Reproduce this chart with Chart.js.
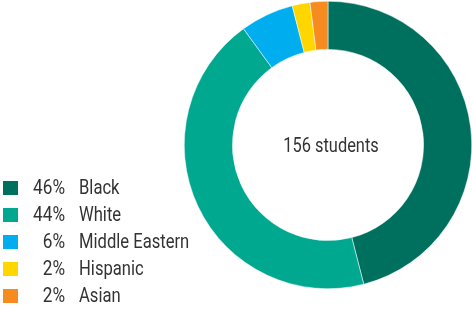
<!DOCTYPE html>
<html>
<head>
<meta charset="utf-8">
<script src="https://cdn.jsdelivr.net/npm/chart.js@4"></script>
<style>
    body { margin: 0; width: 472px; height: 311px; background: #fff; position: relative; overflow: hidden; font-family: Roboto, "Noto Sans", sans-serif; }
    #chart-box { position: absolute; left: 184px; top: 1px; width: 288px; height: 288px; }
    #legend { position: absolute; left: 3px; top: 175px; }
    .row { position: relative; height: 27px; width: 200px; }
    .swatch { position: absolute; left: 0; top: 6px; width: 15px; height: 14px; }
    .pct { position: absolute; left: 12px; width: 50px; top: 0; text-align: right; font-size: 20px; color: #333; transform: scaleX(0.86); transform-origin: right; }
    .lbl { position: absolute; left: 76px; top: 0; font-size: 20px; color: #333; white-space: nowrap; transform: scaleX(0.83); transform-origin: left; }
</style>
</head>
<body>
<div id="chart-box"><canvas id="donut"></canvas></div>
<div id="legend"></div>
<script>
// Student breakdown
const labels = ['Black', 'White', 'Middle Eastern', 'Hispanic', 'Asian'];
const shares = [46, 44, 6, 2, 2];
const colors = ['#00705e', '#00a88f', '#00aeef', '#ffd600', '#f68b1f'];
const centerText = '156 students';

// Legend built from the same arrays
const legend = document.getElementById('legend');
legend.innerHTML = labels.map((name, i) => `
    <div class="row">
        <span class="swatch" style="background:${colors[i]}"></span>
        <span class="pct">${shares[i]}%</span>
        <span class="lbl">${name}</span>
    </div>
`).join('');

// Draw the total in the hole
const centerLabel = {
    id: 'centerLabel',
    afterDraw(chart) {
        const meta = chart.getDatasetMeta(0);
        if (!meta.data.length) return;
        const { x, y } = meta.data[0];
        const ctx = chart.ctx;
        ctx.save();
        ctx.translate(x + 3, y + 2);
        ctx.scale(0.82, 1);
        ctx.font = '20px Roboto, "Noto Sans", sans-serif';
        ctx.fillStyle = '#333';
        ctx.textAlign = 'center';
        ctx.textBaseline = 'middle';
        ctx.fillText(centerText, 0, 0);
        ctx.restore();
    }
};

new Chart(document.getElementById('donut'), {
    type: 'doughnut',
    data: {
        labels: labels,
        datasets: [{
            data: shares,
            backgroundColor: colors,
            borderColor: '#ffffff',
            borderWidth: 0.5
        }]
    },
    options: {
        responsive: true,
        maintainAspectRatio: false,
        animation: false,
        cutout: '66.5%',
        layout: { padding: 0 },
        plugins: {
            legend: { display: false },
            tooltip: { enabled: false }
        }
    },
    plugins: [centerLabel]
});
</script>
</body>
</html>
